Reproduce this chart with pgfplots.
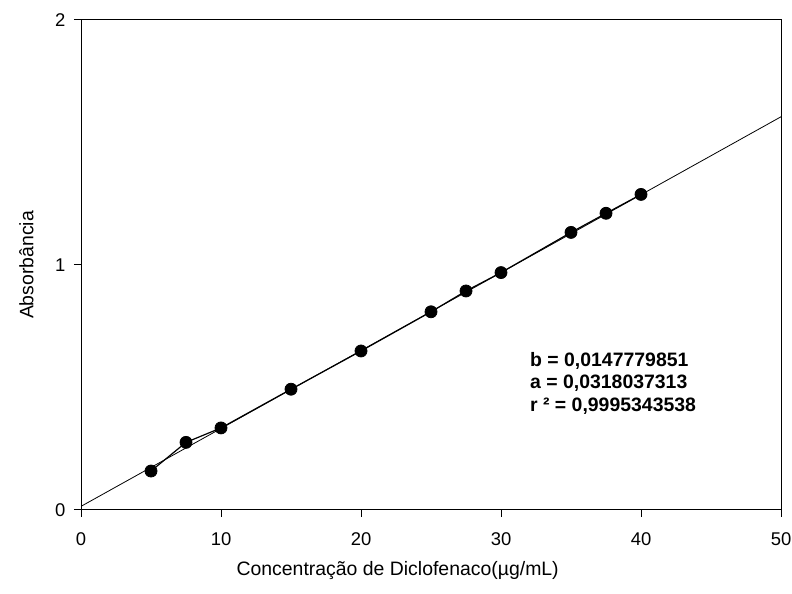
\documentclass[border=0pt]{standalone}
\usepackage{fontspec}
\setmainfont{Liberation Sans}
\usepackage{pgfplots}
\pgfplotsset{compat=1.18}

\begin{document}
\begin{tikzpicture}[x=1bp,y=1bp]
  % fixed page frame
  \path[use as bounding box] (0,0) rectangle (792,594);
  \begin{axis}[
    at={(81bp,84bp)}, anchor=south west,
    scale only axis,
    width=700bp, height=490bp,
    xmin=0, xmax=50, ymin=0, ymax=2,
    xtick={0,10,20,30,40,50},
    ytick={0,1,2},
    xtick pos=bottom, ytick pos=left,
    tick align=outside,
    major tick length=7bp,
    minor tick num=0,
    axis line style={line width=1bp},
    every tick/.style={black, line width=1bp},
    /pgf/number format/assume math mode=true,
    ticklabel style={font=\fontsize{18.5}{21}\selectfont},
    xticklabel style={yshift=-12bp},
    yticklabel style={xshift=-5bp},
    xlabel={Concentração de Diclofenaco(µg/mL)},
    ylabel={Absorbância},
    label style={font=\fontsize{19.5}{24}\selectfont},
    xlabel style={at={(axis description cs:0.4524,-0.1327)}, anchor=base},
    ylabel style={at={(axis description cs:-0.068,0.5)}, anchor=base, rotate=0},
    clip=true,
  ]
    % regression line y = 0.0147779851 + 0.0318037313 x
    \addplot[black, line width=0.8bp] coordinates {(0,0.0147779851) (50,1.6049645501)};
    % measured absorbances
    \addplot[black, line width=1.2bp, mark=*, mark size=6bp,
             mark options={fill=black, draw=black, line width=0.8bp}] coordinates {
      (5,0.159) (7.5,0.276) (10,0.335) (15,0.493) (20,0.649) (25,0.809)
      (27.5,0.894) (30,0.969) (35,1.133) (37.5,1.211) (40,1.288)
    };
    \node[anchor=base west, font=\fontsize{19.5}{22}\selectfont\bfseries, inner sep=0pt]
      at (axis cs:32.07,0.5837) {b = 0,0147779851};
    \node[anchor=base west, font=\fontsize{19.5}{22}\selectfont\bfseries, inner sep=0pt]
      at (axis cs:32.07,0.4939) {a = 0,0318037313};
    \node[anchor=base west, font=\fontsize{19.5}{22}\selectfont\bfseries, inner sep=0pt]
      at (axis cs:32.07,0.4000) {r ² = 0,9995343538};
  \end{axis}
\end{tikzpicture}
\end{document}
